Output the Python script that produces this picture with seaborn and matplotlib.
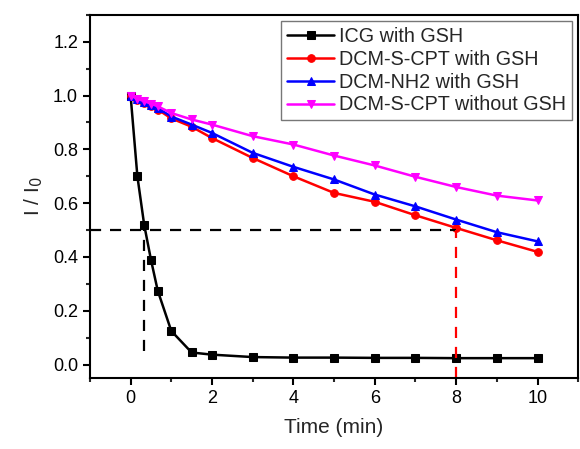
import numpy as np
import pandas as pd
import matplotlib
matplotlib.use("Agg")
import matplotlib.pyplot as plt
import seaborn as sns
from matplotlib.ticker import MultipleLocator

sns.set_style("ticks")
plt.rcParams['font.family'] = ['Liberation Sans', 'DejaVu Sans']

# data
time_min = [0, 1/6, 1/3, 0.5, 2/3, 1, 1.5, 2, 3, 4, 5, 6, 7, 8, 9, 10]
icg_gsh = [1.0, 0.70, 0.52, 0.39, 0.275, 0.125, 0.045, 0.037, 0.028, 0.026,
           0.026, 0.025, 0.025, 0.024, 0.024, 0.024]
dcm_cpt_gsh = [1.0, 0.984, 0.972, 0.960, 0.948, 0.915, 0.884, 0.842, 0.768,
               0.700, 0.638, 0.605, 0.555, 0.508, 0.462, 0.419]
dcm_nh2_gsh = [1.0, 0.986, 0.975, 0.964, 0.953, 0.922, 0.892, 0.861, 0.787,
               0.735, 0.688, 0.632, 0.588, 0.539, 0.492, 0.458]
dcm_cpt_nogsh = [1.0, 0.988, 0.979, 0.970, 0.960, 0.935, 0.911, 0.892, 0.849,
                 0.818, 0.777, 0.740, 0.698, 0.660, 0.628, 0.610]

series = [
    ("ICG with GSH", icg_gsh, "black", "s"),
    ("DCM-S-CPT with GSH", dcm_cpt_gsh, "#ff0000", "o"),
    ("DCM-NH2 with GSH", dcm_nh2_gsh, "#0000ff", "^"),
    ("DCM-S-CPT without GSH", dcm_cpt_nogsh, "#ff00ff", "v"),
]

half_level = 0.5
icg_half_time = 1/3
cpt_half_time = 8

fig = plt.figure(figsize=(5.8, 4.49), dpi=100)
ax = fig.add_axes([0.155, 0.158, 0.842, 0.809])

for name, vals, color, mk in series:
    df = pd.DataFrame({"t": time_min, "v": vals})
    sns.lineplot(data=df, x="t", y="v", ax=ax, color=color, marker=mk,
                 markersize=5.5, markeredgecolor=color, linewidth=1.8,
                 label=name)

# half-decay guide lines
ax.plot([-1, cpt_half_time], [half_level, half_level], color="black",
        linestyle=(0, (5, 4)), linewidth=1.6)
ax.plot([icg_half_time, icg_half_time], [0.05, half_level], color="black",
        linestyle=(0, (5, 4)), linewidth=1.6)
ax.plot([cpt_half_time, cpt_half_time], [-0.05, half_level], color="#ff0000",
        linestyle=(0, (5, 4)), linewidth=1.6)

ax.set_xlim(-1, 11)
ax.set_ylim(-0.05, 1.30)
ax.xaxis.set_major_locator(MultipleLocator(2))
ax.xaxis.set_minor_locator(MultipleLocator(1))
ax.yaxis.set_major_locator(MultipleLocator(0.2))
ax.yaxis.set_minor_locator(MultipleLocator(0.1))
ax.yaxis.set_major_formatter(matplotlib.ticker.FormatStrFormatter("%.1f"))
ax.tick_params(which="major", direction="out", length=5, width=1.5,
               labelsize=13, colors="black")
ax.tick_params(which="minor", direction="out", length=3, width=1.5)
for sp in ax.spines.values():
    sp.set_linewidth(1.5)
    sp.set_color("black")

ax.set_xlabel("Time (min)", fontsize=15, labelpad=8)
ax.set_ylabel("I / I$_0$", fontsize=15, labelpad=6)

leg = ax.legend(loc="upper right", fontsize=14.2, frameon=True, fancybox=False,
                borderpad=0.3, handlelength=2.4, handletextpad=0.25,
                labelspacing=0.2, borderaxespad=0.3)
leg.get_frame().set_edgecolor("#555555")
leg.get_frame().set_linewidth(1.0)

fig.savefig("out.png", dpi=100)
